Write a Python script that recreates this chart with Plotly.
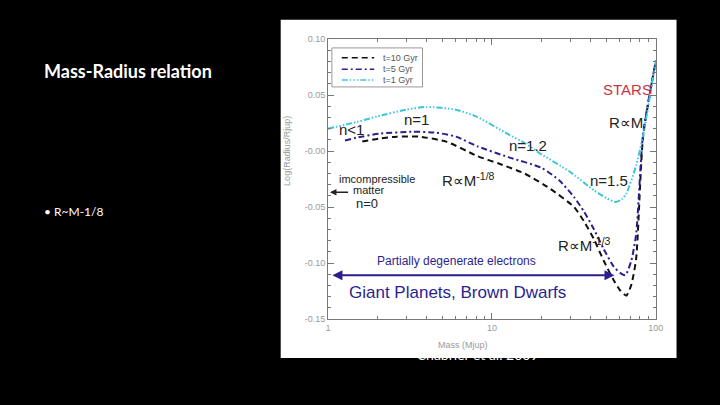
import math
import plotly.graph_objects as go

# ---------------- data ----------------
mass_10 = [1.62, 2.05, 2.63, 3.57, 5.26, 8.18, 11.2, 15.9, 22.5, 31.7, 36.5, 41.9, 48.0, 55.2, 60.8, 66.0, 70.8, 75.8, 83.6, 100]
logr_10 = [0.0085, 0.0112, 0.0129, 0.0129, 0.0085, -0.0045, -0.0115, -0.0202, -0.0333, -0.050, -0.0629, -0.0786, -0.0977, -0.1151, -0.1247, -0.1291, -0.1195, -0.096, 0.013, 0.081]

mass_5 = [1.27, 1.49, 2.05, 3.24, 4.58, 6.04, 8.18, 12.6, 20.1, 25.8, 31.7, 36.5, 41.9, 48.0, 55.2, 60.8, 65.1, 70.8, 75.8, 83.6, 100]
logr_5 = [0.0094, 0.012, 0.0155, 0.0173, 0.0164, 0.0129, 0.0042, -0.0054, -0.015, -0.0263, -0.0411, -0.0542, -0.0698, -0.0873, -0.103, -0.109, -0.1108, -0.098, -0.0742, 0.0155, 0.081]

mass_1 = [1.0, 1.5, 2.0, 3.0, 4.0, 6.0, 8.0, 12.6, 15.9, 20.1, 29.6, 41.9, 50.0, 56.7, 62.0, 66.0, 75.8, 83.6, 100]
logr_1 = [0.020, 0.026, 0.031, 0.037, 0.0395, 0.037, 0.031, 0.015, 0.007, -0.003, -0.018, -0.035, -0.042, -0.0455, -0.043, -0.038, -0.013, 0.014, 0.081]

series_names = ["t=10 Gyr", "t=5 Gyr", "t=1 Gyr"]

y_tick_vals = [0.10, 0.05, 0.0, -0.05, -0.10, -0.15]
y_tick_text = ["0.10", "0.05", "-0.00", "-0.05", "-0.10", "-0.15"]
x_tick_vals = [1, 10, 100]
x_tick_text = ["1", "10", "100"]

# ---------------- figure ----------------
W, H = 720, 405
def px(x):
    return x / W
def py(y):
    return (H - y) / H

BLUE = "#2b1f8f"
CYAN = "#3cc6dc"
LABEL_FONT = "Liberation Sans Narrow, Liberation Sans, Arial, sans-serif"

colors = ["#111111", BLUE, CYAN]
dashes = ["6px,4px", "6px,3px,2px,3px", "6px,2px,1.5px,2px,1.5px,2px,1.5px,2px"]
masses = [mass_10, mass_5, mass_1]
radii = [logr_10, logr_5, logr_1]

fig = go.Figure()
for m, r, name, c, d in zip(masses, radii, series_names, colors, dashes):
    fig.add_trace(go.Scatter(x=m, y=r, mode="lines", name=name, showlegend=False,
                             line=dict(color=c, width=2, dash=d, shape="spline", smoothing=0.6)))

# citation text, clipped by the bottom edge of the embedded picture
fig.add_trace(go.Scatter(x=[482 / W], y=[0.87], xaxis="x3", yaxis="y3", mode="text",
                         text=["Chabrier et al. 2009"], textposition="top center",
                         textfont=dict(color="white", size=14, family="Lato, sans-serif"),
                         showlegend=False, hoverinfo="skip", cliponaxis=True))

axis_common = dict(showline=True, linecolor="#777777", linewidth=1, mirror="allticks",
                   ticks="inside", tickcolor="#777777", ticklen=6, showgrid=False, zeroline=False,
                   tickfont=dict(size=9, color="#9a9a9a", family="Liberation Sans, Arial"))

fig.update_layout(
    width=W, height=H,
    margin=dict(l=0, r=0, t=0, b=0),
    paper_bgcolor="black",
    plot_bgcolor="rgba(0,0,0,0)",
    showlegend=False,
    xaxis=dict(type="log", range=[0, 2], domain=[px(330), px(663)],
               tickvals=x_tick_vals, ticktext=x_tick_text,
               minor=dict(ticks="inside", ticklen=3, tickcolor="#777777", tickvals=[2, 3, 4, 5, 6, 7, 8, 9, 20, 30, 40, 50, 60, 70, 80, 90]),
               **axis_common),
    yaxis=dict(range=[-0.15, 0.10], domain=[py(322), py(35)],
               tickvals=y_tick_vals, ticktext=y_tick_text,
               minor=dict(ticks="inside", ticklen=3, tickcolor="#777777", dtick=0.01),
               **axis_common),
    xaxis3=dict(domain=[0, 1], range=[0, 1], visible=False),
    yaxis3=dict(domain=[0, 43 / H], range=[0, 1], visible=False),
)

# white picture background
fig.add_shape(type="rect", xref="paper", yref="paper", x0=px(282), x1=px(684), y0=py(362), y1=py(15),
              fillcolor="white", line=dict(width=0), layer="below")

ann = []

# compact legend box (as in the original figure)
fig.add_shape(type="rect", xref="paper", yref="paper", x0=px(334), x1=px(426), y0=py(84), y1=py(44),
              fillcolor="white", line=dict(color="#999999", width=1), layer="above")
for i, (name, c, d) in enumerate(zip(series_names, colors, dashes)):
    yy = [54, 66, 77][i]
    fig.add_shape(type="line", xref="paper", yref="paper", x0=px(344), x1=px(377), y0=py(yy), y1=py(yy),
                  line=dict(color=c, width=1.5, dash=d), layer="above")
    ann.append(dict(x=px(384), y=py(yy), xref="paper", yref="paper", text=name, showarrow=False,
                    xanchor="left", yanchor="middle",
                    font=dict(size=9, color="#555555", family="Liberation Sans, Arial")))

def lx(pxv):
    return (pxv - 330) / 166.5
def ly(pyv):
    return 0.10 - (pyv - 35) * 0.25 / 287

def txt(x, y, s, size=13, color="#222222", xanchor="center", family=LABEL_FONT):
    ann.append(dict(x=lx(x), y=ly(y), xref="x", yref="y", text=s, showarrow=False,
                    font=dict(size=size, color=color, family=family), xanchor=xanchor, yanchor="middle"))

txt(634, 87, "STARS", size=15, color="#cc3344")
txt(652, 120, "R∝M", size=15, xanchor="right")
txt(420, 117, "n=1", size=15)
txt(354, 128, "n<1", size=15)
txt(533, 144, "n=1.2", size=15)
txt(615, 180, "n=1.5", size=15)
txt(444, 179, "R∝M<sup>-1/8</sup>", size=15, xanchor="left")
txt(339, 178, "imcompressible", size=11, xanchor="left")
txt(372, 190, "matter", size=11)
txt(370, 204, "n=0", size=13)
txt(562, 246, "R∝M<sup>-1/3</sup>", size=15, xanchor="left")
txt(461, 262, "Partially degenerate electrons", size=12, color=BLUE)
txt(462, 295, "Giant Planets, Brown Dwarfs", size=17, color=BLUE)

# double arrow
ann.append(dict(x=lx(621), y=ly(277), ax=lx(333), ay=ly(277), xref="x", yref="y", axref="x", ayref="y",
                text="", showarrow=True, arrowhead=2, startarrowhead=2, arrowside="end+start",
                arrowsize=1, arrowwidth=2, arrowcolor=BLUE))
# left arrow for incompressible matter
ann.append(dict(x=lx(332), y=ly(192), ax=lx(352), ay=ly(192), xref="x", yref="y", axref="x", ayref="y",
                text="", showarrow=True, arrowhead=2, arrowsize=1, arrowwidth=1.3, arrowcolor="#222222"))

# axis titles
ann.append(dict(x=px(495), y=py(349), xref="paper", yref="paper", text="Mass (Mjup)", showarrow=False,
                yanchor="middle", font=dict(size=9, color="#9a9a9a", family="Liberation Sans, Arial")))
ann.append(dict(x=px(289), y=py(150), xref="paper", yref="paper", text="Log(Radius/Rjup)", showarrow=False,
                textangle=-90, yanchor="middle",
                font=dict(size=9, color="#9a9a9a", family="Liberation Sans, Arial")))

# slide texts
ann.append(dict(x=px(40), y=py(68), xref="paper", yref="paper", text="Mass-Radius relation", showarrow=False,
                xanchor="left", yanchor="middle",
                font=dict(size=18, color="white", family="Lato, sans-serif", weight="bold")))
ann.append(dict(x=px(40), y=py(212), xref="paper", yref="paper", text="• R~M-1/8", showarrow=False,
                xanchor="left", yanchor="middle", font=dict(size=12, color="white", family="Lato, sans-serif")))

fig.update_layout(annotations=ann)

post = (
    "document.documentElement.style.margin='0';"
    "document.documentElement.style.overflow='hidden';"
    "document.documentElement.style.background='black';"
    "document.body.style.margin='0';"
    "document.body.style.overflow='hidden';"
    "document.body.style.background='black';"
    "var cs=document.querySelectorAll('.svg-container');"
    "for(var i=0;i<cs.length;i++){cs[i].style.display='block';}"
)

fig.write_html("out.html", config={"displayModeBar": False}, post_script=post)
